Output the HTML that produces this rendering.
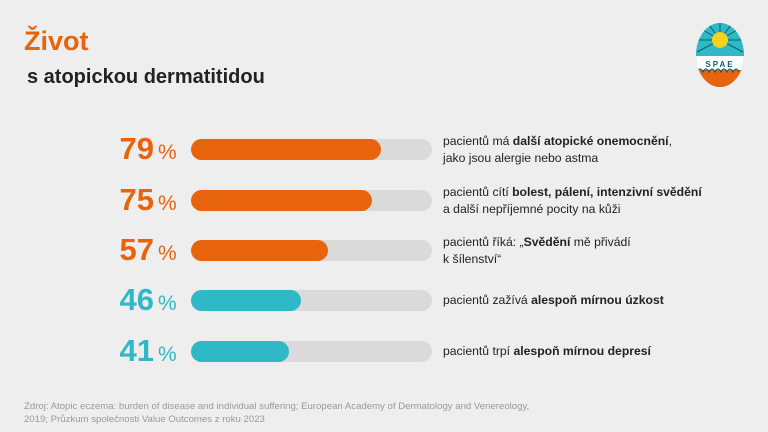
<!DOCTYPE html>
<html><head><meta charset="utf-8"><style>
body{margin:0;width:768px;height:432px;background:#eeeeee;font-family:"Liberation Sans",sans-serif;position:relative;overflow:hidden}
.a{position:absolute}
.t{left:24px;top:26px;font-size:27px;font-weight:bold;color:#e8640c}
.st{left:27px;top:66px;font-size:20px;font-weight:bold;color:#222}
.num{width:154px;text-align:right;font-size:31px;font-weight:bold;left:0}
.pc{font-size:21px;left:158px}
.tr{left:191px;width:241px;height:21px;border-radius:11px;background:#dadada}
.br{height:21px;border-radius:11px}
.tx{left:443px;font-size:12.2px;color:#222;line-height:17px}
.src{left:24px;top:400px;font-size:9.6px;color:#999;line-height:13px}
</style></head><body>
<div class="a t">Život</div>
<div class="a st">s atopickou dermatitidou</div>
<svg class="a" style="left:695px;top:22px" width="50" height="66" viewBox="0 0 50 66">
<defs><clipPath id="c"><ellipse cx="25" cy="33" rx="24" ry="32"/></clipPath></defs>
<g clip-path="url(#c)">
<rect width="50" height="66" fill="#2fb8c6"/>
<g stroke="#0f5f73" stroke-width="1">
<line x1="25" y1="18" x2="0" y2="18"/><line x1="25" y1="18" x2="50" y2="18"/>
<line x1="25" y1="18" x2="3" y2="5"/><line x1="25" y1="18" x2="47" y2="5"/>
<line x1="25" y1="18" x2="12" y2="0"/><line x1="25" y1="18" x2="38" y2="0"/>
<line x1="25" y1="18" x2="25" y2="0"/><line x1="25" y1="18" x2="2" y2="30"/><line x1="25" y1="18" x2="48" y2="30"/></g>
<circle cx="25" cy="18" r="8" fill="#f5d21c"/>
<rect y="34" width="50" height="14" fill="#fff"/>
<rect y="48" width="50" height="18" fill="#e8640c"/>
<path d="M2 50 q3 -6 6 0 q3 -6 6 0 q3 -6 6 0 q3 -6 6 0 q3 -6 6 0 q3 -6 6 0 q3 -6 6 0" fill="none" stroke="#0f5f73" stroke-width="1.2"/>
</g>
<text x="25" y="45" font-size="8" font-weight="bold" text-anchor="middle" fill="#0f5f73" letter-spacing="2">SPAE</text>
</svg>

<div class="a num" style="top:131px;color:#e8640c">79</div><div class="a pc" style="top:141px;color:#e8640c">%</div>
<div class="a tr" style="top:139px"><div class="br" style="width:190px;background:#e8640c"></div></div>
<div class="a tx" style="top:133px">pacientů má <b>další atopické onemocnění</b>,<br>jako jsou alergie nebo astma</div>

<div class="a num" style="top:182px;color:#e8640c">75</div><div class="a pc" style="top:192px;color:#e8640c">%</div>
<div class="a tr" style="top:190px"><div class="br" style="width:181px;background:#e8640c"></div></div>
<div class="a tx" style="top:184px">pacientů cítí <b>bolest, pálení, intenzivní svědění</b><br>a další nepříjemné pocity na kůži</div>

<div class="a num" style="top:232px;color:#e8640c">57</div><div class="a pc" style="top:242px;color:#e8640c">%</div>
<div class="a tr" style="top:240px"><div class="br" style="width:137px;background:#e8640c"></div></div>
<div class="a tx" style="top:234px">pacientů říká: „<b>Svědění</b> mě přivádí<br>k šílenství“</div>

<div class="a num" style="top:282px;color:#2fb8c6">46</div><div class="a pc" style="top:292px;color:#2fb8c6">%</div>
<div class="a tr" style="top:290px"><div class="br" style="width:110px;background:#2fb8c6"></div></div>
<div class="a tx" style="top:292px">pacientů zažívá <b>alespoň mírnou úzkost</b></div>

<div class="a num" style="top:333px;color:#2fb8c6">41</div><div class="a pc" style="top:343px;color:#2fb8c6">%</div>
<div class="a tr" style="top:341px"><div class="br" style="width:98px;background:#2fb8c6"></div></div>
<div class="a tx" style="top:343px">pacientů trpí <b>alespoň mírnou depresí</b></div>

<div class="a src">Zdroj: Atopic eczema: burden of disease and individual suffering; European Academy of Dermatology and Venereology,<br>2019; Průzkum společnosti Value Outcomes z roku 2023</div>
</body></html>
